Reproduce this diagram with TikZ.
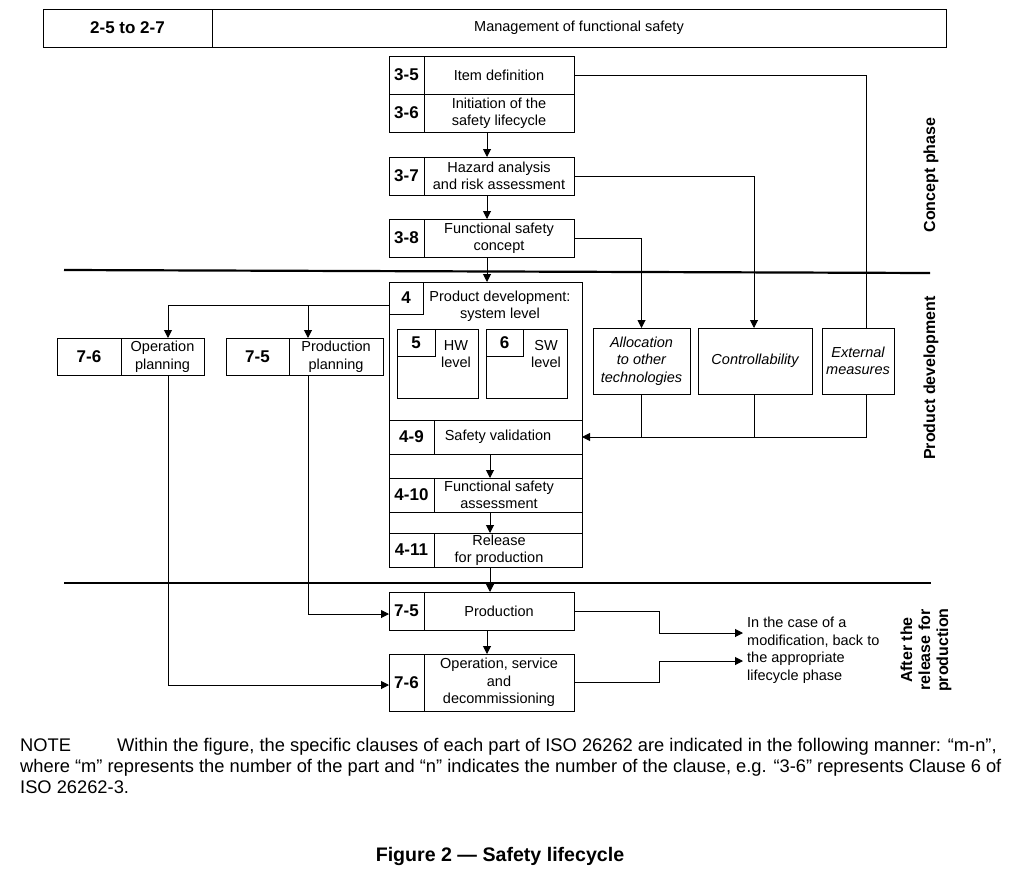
\documentclass[tikz,border=0pt]{standalone}
\usepackage{fontspec}
\setmainfont{Liberation Sans}
\usetikzlibrary{arrows.meta}
\begin{document}
\begin{tikzpicture}[x=1pt,y=-1pt,
  box/.style={draw, line width=1pt, inner sep=0pt, outer sep=0pt, align=center, font=\fontsize{14.5}{17.5}\selectfont},
  num/.style={box, font=\fontsize{17}{20}\selectfont\bfseries},
  ibox/.style={box, font=\fontsize{14.5}{17.5}\selectfont\itshape},
  lbl/.style={inner sep=0pt, align=center, font=\fontsize{14.5}{17.5}\selectfont},
  conn/.style={line width=1pt},
  arr/.style={conn, -{Triangle[length=8pt,width=8pt]}},
  sep/.style={line width=2.2pt},
  phase/.style={rotate=90, align=center, inner sep=0pt, font=\fontsize{16}{18}\selectfont\bfseries},
  note/.style={inner sep=0pt, anchor=base west, font=\fontsize{18.3}{21}\selectfont}
]
\useasboundingbox (0,0) rectangle (1025,886);

% header
\node[num, minimum width=169pt, minimum height=38pt] (h1) at (127.5,28) {2-5 to 2-7};
\node[box, minimum width=734pt, minimum height=38pt] (h2) at (579,28) {Management of functional safety};

% concept phase
\node[num, minimum width=35pt, minimum height=38pt] (n35) at (406.5,75) {3-5};
\node[box, minimum width=150pt, minimum height=38pt] (t35) at (499,75) {Item definition};
\node[num, minimum width=35pt, minimum height=38pt] (n36) at (406.5,113) {3-6};
\node[box, minimum width=150pt, minimum height=38pt] (t36) at (499,113) {Initiation of the\\safety lifecycle};
\node[num, minimum width=35pt, minimum height=38pt] (n37) at (406.5,176) {3-7};
\node[box, minimum width=150pt, minimum height=38pt] (t37) at (499,176) {Hazard analysis\\and risk assessment};
\node[num, minimum width=35pt, minimum height=38pt] (n38) at (406.5,238) {3-8};
\node[box, minimum width=150pt, minimum height=38pt] (t38) at (499,238) {Functional safety\\concept};

% product development block
\node[box, minimum width=193pt, minimum height=285pt] (b4) at (485.5,424.5) {};
\node[num, minimum width=34pt, minimum height=32pt] (n4) at (406,298) {4};
\node[lbl] (t4) at (500,306) {Product development:\\system level};
\node[box, minimum width=81pt, minimum height=69pt] (hw) at (437.5,363.5) {};
\node[num, minimum width=38pt, minimum height=27pt] (n5) at (416,342.5) {5};
\node[lbl] (thw) at (456,354) {HW\\level};
\node[box, minimum width=81pt, minimum height=69pt] (sw) at (526.5,363.5) {};
\node[num, minimum width=37pt, minimum height=27pt] (n6) at (504.5,342.5) {6};
\node[lbl] (tsw) at (546,354) {SW\\level};

\node[num, minimum width=45pt, minimum height=34pt] (n49) at (411.5,437) {4-9};
\node[box, minimum width=148pt, minimum height=34pt] (t49) at (508,437) {};
\node[lbl] (l49) at (498,437) {Safety validation};
\node[num, minimum width=45pt, minimum height=34pt] (n410) at (411.5,495) {4-10};
\node[box, minimum width=148pt, minimum height=34pt] (t410) at (508,495) {};
\node[lbl] (l410) at (499,495) {Functional safety\\assessment};
\node[num, minimum width=45pt, minimum height=34pt] (n411) at (411.5,550) {4-11};
\node[box, minimum width=148pt, minimum height=34pt] (t411) at (508,550) {};
\node[lbl] (l411) at (499,550) {Release\\for production};

% planning boxes
\node[num, minimum width=64pt, minimum height=37pt] (n76a) at (89,356.5) {7-6};
\node[box, minimum width=83pt, minimum height=37pt] (t76a) at (162.5,356.5) {Operation\\planning};
\node[num, minimum width=63pt, minimum height=37pt] (n75a) at (257.5,356.5) {7-5};
\node[box, minimum width=94pt, minimum height=37pt] (t75a) at (336,356.5) {Production\\planning};

% other technologies
\node[ibox, minimum width=97pt, minimum height=66pt] (alloc) at (641.5,361) {Allocation\\to other\\technologies};
\node[ibox, minimum width=114pt, minimum height=66pt] (ctrl) at (755,361) {Controllability};
\node[ibox, minimum width=72pt, minimum height=66pt] (ext) at (858,361) {External\\measures};

% after release
\node[num, minimum width=35pt, minimum height=38pt] (n75b) at (406.5,611) {7-5};
\node[box, minimum width=150pt, minimum height=38pt] (t75b) at (499,611) {Production};
\node[num, minimum width=35pt, minimum height=57pt] (n76b) at (406.5,682.5) {7-6};
\node[box, minimum width=150pt, minimum height=57pt] (t76b) at (499,682.5) {Operation, service\\and\\decommissioning};

\node[lbl, align=left, anchor=west] (mod) at (747,650) {In the case of a\\modification, back to\\the appropriate\\lifecycle phase};

% phase labels and separators
\node[phase] (pc) at (931,175) {Concept phase};
\node[phase] (pd) at (931,378) {Product development};
\node[phase] (pa) at (926,650) {After the\\release for\\production};
\draw[sep] (64,270) -- (930,273);
\draw[sep] (64,583) -- (931,583);

% connectors
\draw[arr] ([xshift=-12pt]t36.south) -- ([xshift=-12pt]t37.north);
\draw[arr] ([xshift=-12pt]t37.south) -- ([xshift=-12pt]t38.north);
\draw[arr] ([xshift=-12pt]t38.south) -- ([xshift=-12pt]t38.south |- b4.north);
\draw[arr] ([xshift=-18pt]t49.south) -- ([xshift=-18pt]t410.north);
\draw[arr] ([xshift=-18pt]t410.south) -- ([xshift=-18pt]t411.north);
\draw[arr] ([xshift=-18pt]t411.south) -- ([xshift=-18pt]t411.south |- t75b.north);
\draw[arr] ([xshift=-12pt]t75b.south) -- ([xshift=-12pt]t76b.north);

\coordinate (a76) at (168,305);
\coordinate (a75) at (308,305);
\draw[conn] (b4.west |- a76) -- (a76);
\draw[arr] (a76) -- (a76 |- t76a.north);
\draw[arr] (a75) -- (a75 |- t75a.north);
\draw[arr] (a76 |- t76a.south) |- ([yshift=-2.5pt]n76b.west);
\draw[arr] (a75 |- t75a.south) |- ([yshift=-3pt]n75b.west);

\draw[conn] (t35.east) -| ([xshift=8pt]ext.north);
\draw[arr] (t37.east) -| ([xshift=-1pt]ctrl.north);
\draw[arr] (t38.east) -| (alloc.north);
\draw[arr] ([xshift=8pt]ext.south) |- (t49.east);
\draw[conn] (alloc.south) -- (alloc.south |- t49.east);
\draw[conn] ([xshift=-1pt]ctrl.south) -- ([xshift=-1pt]ctrl.south |- t49.east);

\coordinate (kk) at (659,647);
\coordinate (m1) at (743,633);
\coordinate (m2) at (743,661);
\draw[arr] (t75b.east) -| (kk |- m1) -- (m1);
\draw[arr] (t76b.east) -| (kk |- m2) -- (m2);

% note and caption
\node[note] (nt0) at (20,751) {NOTE};
\node[note] (nt1) at (117,751) {Within the figure, the specific clauses of each part of ISO 26262 are indicated in the following manner: “m-n”,};
\node[note] (nt2) at (20,772) {where “m” represents the number of the part and “n” indicates the number of the clause, e.g. “3-6” represents Clause 6 of};
\node[note] (nt3) at (20,793) {ISO 26262-3.};
\node[inner sep=0pt, anchor=base, font=\fontsize{19.6}{23}\selectfont\bfseries] (cap) at (500,861) {Figure 2 — Safety lifecycle};
\end{tikzpicture}
\end{document}
